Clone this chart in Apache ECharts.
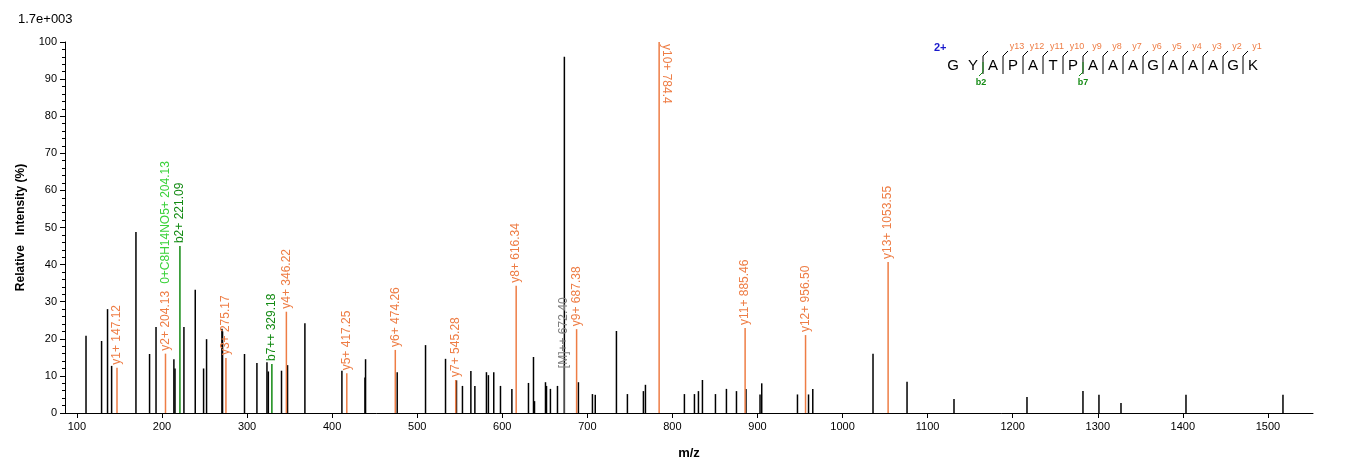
<!DOCTYPE html>
<html>
<head>
<meta charset="utf-8">
<script src="https://cdn.jsdelivr.net/npm/echarts@6/dist/echarts.min.js"></script>
<style>
html, body { margin: 0; padding: 0; background: #fff; }
#main { width: 1362px; height: 473px; }
</style>
</head>
<body>
<div id="main"></div>
<script>
// unlabelled peaks (m/z, relative intensity %)
var peakMz = [110.7, 129, 136, 140.8, 169.4, 185.4, 193, 214, 215.3, 225.8, 239.1, 248.9, 252.4, 270.5, 271.2,
	297, 311.6, 323.4, 325, 340.5, 347.6, 368, 411.5, 438.6, 439.3, 476.5, 509.8, 533.3, 546.2, 553.2,
	563.1, 567.8, 581.4, 583.7, 590, 597.9, 611.3, 630.8, 636.7, 637.9, 650.8, 652, 656.6, 664.9, 673,
	689.5, 706, 709.3, 734.2, 747.1, 765.9, 768.3, 814.1, 825.9, 830.6, 835.3, 850.6, 863.5, 875.3,
	886.5, 903, 905, 947, 960, 965, 1035.8, 1075.8, 1131, 1216.8, 1282.6, 1301.4, 1327.3, 1403.7, 1517.7];
var peakInt = [20.8, 19.4, 28, 12.7, 48.8, 15.9, 23.2, 14.5, 12, 23.2, 33.2, 12, 19.9, 22.7, 22,
	15.9, 13.5, 13.7, 11.2, 11.4, 12.9, 24.2, 11.4, 9.6, 14.5, 11, 18.3, 14.6, 8.8, 7.3,
	11.3, 7.3, 11, 10.2, 11, 7.3, 6.5, 8.1, 15.1, 3.2, 8.3, 7.3, 6.5, 7.3, 96,
	8.3, 5.1, 4.9, 22.1, 5.1, 5.9, 7.6, 5.1, 5.1, 5.9, 8.9, 5.1, 6.5, 5.9,
	6.5, 5, 8, 5, 5, 6.5, 16, 8.4, 3.8, 4.3, 5.9, 4.9, 2.7, 4.9, 4.9];

// annotated ions
var ionMz = [147.12, 204.13, 275.17, 346.22, 417.25, 474.26, 545.28, 616.34, 687.38, 784.4, 885.46, 956.50, 1053.55,
	221.09, 329.18, 204.13, 672.40];
var ionInt = [12.2, 16, 14.8, 27.3, 10.7, 17, 8.9, 34.3, 22.6, 100, 22.9, 21, 40.7,
	45, 13.2, 34, 12.9];
var ionLabel = ['y1+ 147.12', 'y2+ 204.13', 'y3+ 275.17', 'y4+ 346.22', 'y5+ 417.25', 'y6+ 474.26', 'y7+ 545.28',
	'y8+ 616.34', 'y9+ 687.38', 'y10+ 784.4', 'y11+ 885.46', 'y12+ 956.50', 'y13+ 1053.55',
	'b2+ 221.09', 'b7++ 329.18', '0+C8H14NO5+ 204.13', '[M]++ 672.40'];
var ionType = ['y', 'y', 'y', 'y', 'y', 'y', 'y', 'y', 'y', 'y', 'y', 'y', 'y', 'b', 'b', 'n', 'm'];

var sequence = ['G', 'Y', 'A', 'P', 'A', 'T', 'P', 'A', 'A', 'A', 'G', 'A', 'A', 'A', 'G', 'K'];
var xTicks = [100, 200, 300, 400, 500, 600, 700, 800, 900, 1000, 1100, 1200, 1300, 1400, 1500];

var colors = { y: '#ee7d45', b: '#138a13', n: '#3ad23a', m: '#7f7f7f' };

var blackData = [];
for (var i = 0; i < peakMz.length; i++) blackData.push([peakMz[i], peakInt[i]]);

var ionData = [];
for (var i = 0; i < ionMz.length; i++) {
	var t = ionType[i];
	var lab = {
		show: true, position: 'top', rotate: 90, align: 'left', verticalAlign: 'middle',
		distance: 3, color: colors[t], fontSize: 12, fontFamily: 'Arial, Liberation Sans',
		formatter: ionLabel[i]
	};
	if (t == 'm') { lab.offset = [-6, 0]; }
	if (ionLabel[i] == 'y10+ 784.4') { lab.position = [8, 2]; lab.rotate = -90; }
	ionData.push({
		value: [ionMz[i], ionInt[i]],
		itemStyle: { color: t == 'n' ? 'rgba(0,0,0,0)' : colors[t] },
		label: lab
	});
}

// sequence graphic
var graphics = [
	{ type: 'text', left: 18, top: 13, style: { text: '1.7e+003', fill: '#000', font: '13px Arial, Liberation Sans' } },
	{ type: 'text', left: 934, top: 42, style: { text: '2+', fill: '#1a1acc', font: 'bold 11px Arial, Liberation Sans' } }
];
var seqX0 = 953, seqStep = 20;
for (var i = 0; i < sequence.length; i++) {
	var cx = seqX0 + i * seqStep;
	graphics.push({ type: 'text', x: cx, y: 58, style: { text: sequence[i], fill: '#000', font: '15px Arial, Liberation Sans', align: 'center' } });
	if (i >= 2) {
		graphics.push({ type: 'polyline', shape: { points: [[cx - 10, 74], [cx - 10, 56], [cx - 5, 51]] }, style: { stroke: '#000', lineWidth: 1, fill: null } });
		var k = 16 - i;
		if (k <= 13) graphics.push({ type: 'text', x: cx + 4, y: 42, style: { text: 'y' + k, fill: '#ee7d45', font: '9px Arial, Liberation Sans', align: 'center' } });
	}
}
graphics.push({ type: 'polyline', shape: { points: [[seqX0 + 30, 62], [seqX0 + 30, 72], [seqX0 + 26, 76]] }, style: { stroke: '#138a13', lineWidth: 1, fill: null } });
graphics.push({ type: 'text', x: 981, y: 78, style: { text: 'b2', fill: '#138a13', font: 'bold 9px Arial, Liberation Sans', align: 'center' } });
graphics.push({ type: 'polyline', shape: { points: [[seqX0 + 130, 62], [seqX0 + 130, 72], [seqX0 + 126, 76]] }, style: { stroke: '#138a13', lineWidth: 1, fill: null } });
graphics.push({ type: 'text', x: 1083, y: 78, style: { text: 'b7', fill: '#138a13', font: 'bold 9px Arial, Liberation Sans', align: 'center' } });

var option = {
	animation: false,
	backgroundColor: '#fff',
	grid: { left: 65, right: 49, top: 42, bottom: 60 },
	graphic: graphics,
	xAxis: {
		type: 'value', min: 86, max: 1553,
		name: 'm/z', nameLocation: 'middle', nameGap: 34,
		nameTextStyle: { fontWeight: 'bold', fontSize: 13, color: '#000', fontFamily: 'Arial, Liberation Sans' },
		axisLine: { lineStyle: { color: '#000' } },
		axisTick: { show: true, customValues: xTicks, length: 5, lineStyle: { color: '#000' } },
		minorTick: { show: false },
		axisLabel: { customValues: xTicks, formatter: function(v) { return String(v); }, color: '#000', fontSize: 11, fontFamily: 'Arial, Liberation Sans' },
		splitLine: { show: false }
	},
	yAxis: {
		type: 'value', min: 0, max: 100, interval: 10,
		name: 'Relative   Intensity (%)', nameLocation: 'middle', nameGap: 38,
		nameTextStyle: { fontWeight: 'bold', fontSize: 12, color: '#000', fontFamily: 'Arial, Liberation Sans' },
		axisLine: { show: true, lineStyle: { color: '#000' } },
		axisTick: { show: true, length: 5, lineStyle: { color: '#000' } },
		minorTick: { show: true, splitNumber: 5, length: 3, lineStyle: { color: '#000' } },
		axisLabel: { color: '#000', fontSize: 11, fontFamily: 'Arial, Liberation Sans' },
		splitLine: { show: false }
	},
	series: [
		{ type: 'bar', data: blackData, barWidth: 1.5, itemStyle: { color: '#000' }, barGap: '-100%' },
		{ type: 'bar', data: ionData, barWidth: 1.5, barGap: '-100%', z: 3 }
	]
};

var chart = echarts.init(document.getElementById('main'));
chart.setOption(option);
</script>
</body>
</html>
